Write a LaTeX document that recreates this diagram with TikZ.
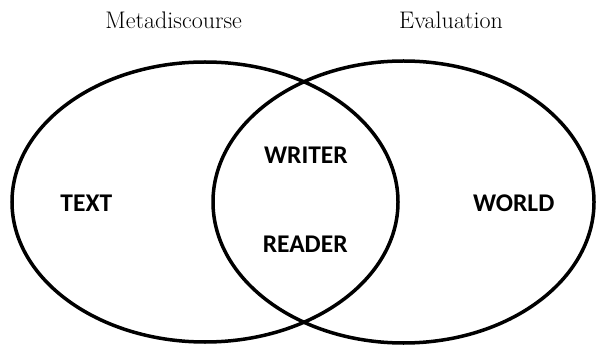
\documentclass[tikz,border=0pt]{standalone}
\usepackage{fontspec}
\newfontfamily\labfont{Carlito}
\usetikzlibrary{shapes.geometric}
\begin{document}
\begin{tikzpicture}[x=1pt,y=-1pt,
  setring/.style={draw=black, ellipse, line width=3.5pt, inner sep=0pt},
  title/.style={anchor=base, inner sep=0pt, font=\fontsize{24}{29}\selectfont},
  lab/.style={anchor=base, inner sep=0pt, font=\labfont\bfseries\fontsize{25.5}{30}\selectfont}]
\useasboundingbox[fill=white] (0,0) rectangle (596,347);
\node[setring, minimum width=386pt, minimum height=280pt] (meta) at (205,202) {};
\node[setring, minimum width=381pt, minimum height=282pt] (eval) at (403.5,202) {};
\node[title] (tmeta) at (173.7,29) {Metadiscourse};
\node[title] (teval) at (451,29) {Evaluation};
\node[lab] (text) at (86.3,211.7) {TEXT};
\node[lab] (writer) at (305.9,164) {WRITER};
\node[lab] (reader) at (305.2,252.3) {READER};
\node[lab] (world) at (513.7,211.7) {WORLD};
\end{tikzpicture}
\end{document}
